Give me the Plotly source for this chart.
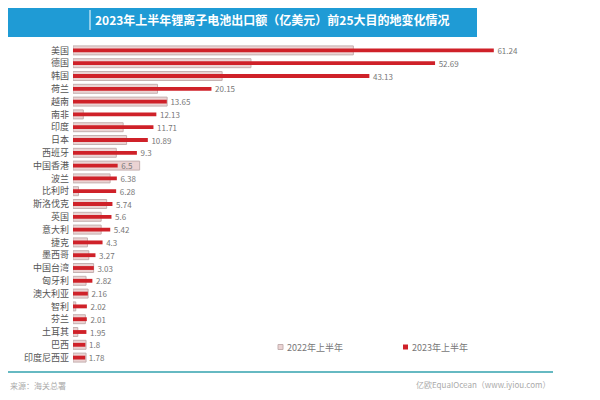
import plotly.graph_objects as go

countries = ["美国", "德国", "韩国", "荷兰", "越南", "南非", "印度", "日本", "西班牙", "中国香港",
             "波兰", "比利时", "斯洛伐克", "英国", "意大利", "捷克", "墨西哥", "中国台湾", "匈牙利",
             "澳大利亚", "智利", "芬兰", "土耳其", "巴西", "印度尼西亚"]
h1_2023 = [61.24, 52.69, 43.13, 20.15, 13.65, 12.13, 11.71, 10.89, 9.3, 6.5,
           6.38, 6.28, 5.74, 5.6, 5.42, 4.3, 3.27, 3.03, 2.82,
           2.16, 2.02, 2.01, 1.95, 1.8, 1.78]
h1_2022 = [40.8, 25.9, 21.7, 12.3, 13.7, 1.5, 7.3, 7.8, 6.3, 9.7,
           5.4, 0.8, 4.9, 4.1, 4.1, 2.1, 2.3, 3.0, 1.9,
           2.2, 0.4, 1.8, 0.7, 1.9, 1.9]
labels_2023 = ["61.24", "52.69", "43.13", "20.15", "13.65", "12.13", "11.71", "10.89", "9.3", "6.5",
               "6.38", "6.28", "5.74", "5.6", "5.42", "4.3", "3.27", "3.03", "2.82",
               "2.16", "2.02", "2.01", "1.95", "1.8", "1.78"]

font = "Noto Sans CJK SC"
gray_fill = "#ebd3d3"
gray_line = "#c4b0b0"
red = "#cf2129"

# page body has an 8px margin; targets below are in window pixels
OFF = 8
W, H, L, T = 481, 320, 73, 44


def px(x):
    return (x - L) / W


def py(y):
    return (T + H - y) / H


fig = go.Figure()
fig.add_trace(go.Bar(
    y=countries, x=h1_2022, orientation="h", name="2022年上半年",
    width=0.7, marker=dict(color=gray_fill, line=dict(color=gray_line, width=1)),
    showlegend=False))
fig.add_trace(go.Bar(
    y=countries, x=h1_2023, orientation="h", name="2023年上半年",
    width=0.3, marker=dict(color=red, line=dict(width=0)),
    text=labels_2023, texttemplate="\u00a0\u00a0%{text}", textposition="outside",
    cliponaxis=False, constraintext="none",
    textfont=dict(size=8, color="#777777", family=font), showlegend=False))

fig.update_layout(
    width=600, height=400,
    barmode="overlay",
    plot_bgcolor="white", paper_bgcolor="white",
    margin=dict(l=L - OFF, r=600 - (L - OFF) - W, t=T - OFF, b=400 - (T - OFF) - H,
                autoexpand=False),
    font=dict(family=font, color="#555555"),
    xaxis=dict(range=[0, 70], visible=False),
    yaxis=dict(range=[24.5, -0.5], showgrid=False, showline=False, zeroline=False,
               automargin=False, ticks="", ticklabelstandoff=3,
               tickfont=dict(size=9, color="#555555")),
    shapes=[
        dict(type="rect", xref="paper", yref="paper",
             x0=px(8), x1=px(477), y0=py(0), y1=py(37),
             fillcolor="#1f9bd5", line=dict(width=0), layer="below"),
        dict(type="line", xref="paper", yref="paper",
             x0=px(90), x1=px(90), y0=py(10), y1=py(30),
             line=dict(color="white", width=1)),
        dict(type="line", xref="paper", yref="paper",
             x0=px(5), x1=px(553), y0=py(372), y1=py(372),
             line=dict(color="#66b9c2", width=2)),
        # legend swatches
        dict(type="rect", xref="paper", yref="paper",
             x0=px(278), x1=px(283), y0=py(344.5), y1=py(349.5),
             fillcolor=gray_fill, line=dict(color=gray_line, width=1)),
        dict(type="rect", xref="paper", yref="paper",
             x0=px(403), x1=px(408), y0=py(344.5), y1=py(349.5),
             fillcolor=red, line=dict(width=0)),
    ],
    annotations=[
        dict(text="<b>2023年上半年锂离子电池出口额（亿美元）前25大目的地变化情况</b>",
             xref="paper", yref="paper", x=px(272), y=py(19),
             xanchor="center", yanchor="middle", showarrow=False,
             font=dict(size=12, color="white", family=font)),
        dict(text="2022年上半年", xref="paper", yref="paper", x=px(285), y=py(347),
             xanchor="left", yanchor="middle", showarrow=False,
             font=dict(size=9, color="#777777", family=font)),
        dict(text="2023年上半年", xref="paper", yref="paper", x=px(410), y=py(347),
             xanchor="left", yanchor="middle", showarrow=False,
             font=dict(size=9, color="#777777", family=font)),
        dict(text="来源：海关总署", xref="paper", yref="paper",
             x=px(8), y=py(385), xanchor="left", yanchor="middle",
             showarrow=False, font=dict(size=8, color="#aaaaaa", family=font)),
        dict(text="亿欧EquaIOcean（www.iyiou.com）", xref="paper", yref="paper",
             x=px(552), y=py(384), xanchor="right", yanchor="middle",
             showarrow=False, font=dict(size=8, color="#aaaaaa", family=font)),
    ],
)

fig.write_html("out.html")
